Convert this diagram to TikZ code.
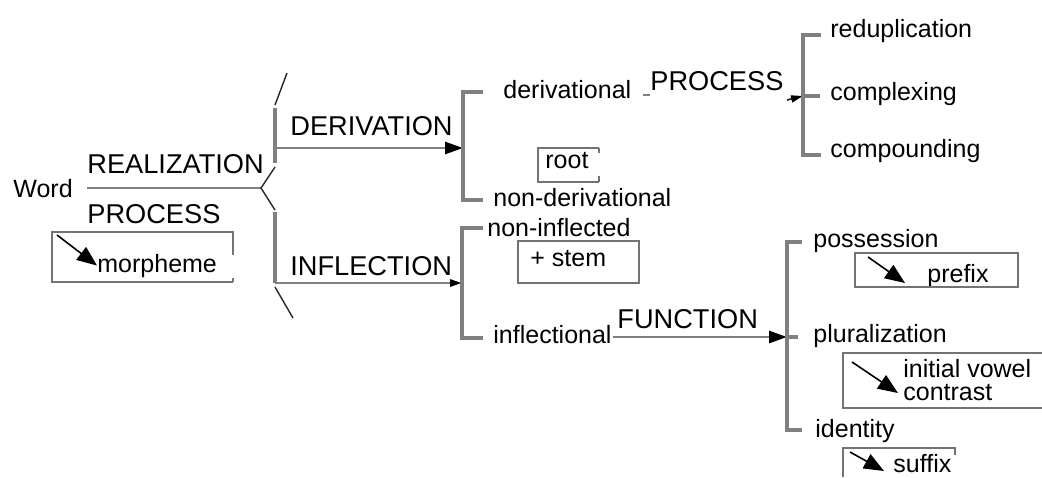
\documentclass[tikz,border=0pt]{standalone}
\usepackage{fontspec}
\setmainfont{Liberation Sans}
\usetikzlibrary{arrows.meta}
\tikzset{
  lbl/.style={inner sep=0pt, anchor=base west, font=\fontsize{12.5}{14}\selectfont},
  caps/.style={inner sep=0pt, anchor=base west, font=\fontsize{13.6}{15}\selectfont},
  gline/.style={draw=black!50, line width=1.4pt},
  bar/.style={draw=black!50, line width=1.7pt},
  slash/.style={draw=black!85, line width=0.7pt},
  boxline/.style={draw=black!55, line width=1.2pt},
  bigtip/.style={-{Triangle[length=9pt,width=6pt,black]}},
  smalltip/.style={-{Triangle[length=6pt,width=3.5pt,black]}},
  boxarrow/.style={draw=black, line width=0.8pt, -{Triangle[length=10pt,width=8pt,black]}},
}
\begin{document}
\begin{tikzpicture}[x=0.5pt,y=-0.5pt]
\useasboundingbox (0,0) rectangle (1042,477);

% ---- labels ----
\node[lbl]  (word)          at (13,197)  {Word};
\node[caps] (realization)   at (87,173)  {REALIZATION};
\node[caps] (process1)      at (87,223)  {PROCESS};
\node[lbl]  (morpheme)      at (97,272)  {morpheme};
\node[caps] (derivation)    at (290,135) {DERIVATION};
\node[caps] (inflection)    at (290,275) {INFLECTION};
\node[lbl]  (derivational)  at (503,98)  {derivational};
\node[caps] (process2)      at (650,90)  {PROCESS};
\node[lbl]  (reduplication) at (830,37)  {reduplication};
\node[lbl]  (complexing)    at (830,100) {complexing};
\node[lbl]  (compounding)   at (830,157) {compounding};
\node[lbl]  (root)          at (545,168) {root};
\node[lbl]  (nonderiv)      at (493,206) {non-derivational};
\node[lbl]  (noninfl)       at (487,236) {non-inflected};
\node[lbl]  (stem)          at (530,266) {+ stem};
\node[lbl]  (inflectional)  at (493,343) {inflectional};
\node[caps] (function)      at (617,328) {FUNCTION};
\node[lbl]  (possession)    at (813,247) {possession};
\node[lbl]  (prefix)        at (927,282) {prefix};
\node[lbl]  (pluralization) at (813,342) {pluralization};
\node[lbl]  (initialvowel)  at (903,377) {initial vowel};
\node[lbl]  (contrast)      at (903,400) {contrast};
\node[lbl]  (identity)      at (815,437) {identity};
\node[lbl]  (suffix)        at (893,472) {suffix};

% ---- entry: Word -> simultaneous brace ----
\coordinate (wordout) at (87,188);
\coordinate (kink)    at (261,188);
\draw[gline] (wordout) -- (kink);

\coordinate (bt1) at (287,73);  \coordinate (bt2) at (275,105);
\coordinate (b1a) at (275,108); \coordinate (b1b) at (275,163);
\coordinate (k1)  at (275,167); \coordinate (k2)  at (275,210);
\coordinate (b2a) at (275,212); \coordinate (b2b) at (275,283);
\coordinate (bb1) at (275,287); \coordinate (bb2) at (293,318);
\draw[slash] (bt1) -- (bt2);
\draw[bar]   (b1a) -- (b1b);
\draw[slash] (k1) -- (kink) -- (k2);
\draw[bar]   (b2a) -- (b2b);
\draw[slash] (bb1) -- (bb2);

% ---- DERIVATION system ----
\coordinate (dstart) at (275,148);
\coordinate (dbr)    at (463,148);
\draw[gline, bigtip] (dstart) -- (dbr);
\coordinate (dtop) at (483,92);
\coordinate (dbot) at (483,200);
\draw[bar] (dtop) -| (dbr) |- (dbot);

% derivational --PROCESS--> process bracket
\coordinate (p2a) at (643,95);
\coordinate (p2b) at (650,95);
\draw[gline] (p2a) -- (p2b);
\coordinate (p2c) at (787,100);
\coordinate (pbr) at (803,96);
\draw[slash, line width=0.9pt, smalltip] (p2c) -- (pbr);
\coordinate (ptop) at (821,35);
\coordinate (pbot) at (821,155);
\coordinate (pmid) at (820,96);
\draw[bar] (ptop) -| (pbr) |- (pbot);
\draw[bar] (pbr) -- (pmid);

% root box (open on the right)
\draw[boxline] (599,148) -- (538,148) -- (538,182) -- (599,182);
\draw[boxline] (599,148) -- (599,153);
\draw[boxline] (599,176) -- (599,182);

% ---- INFLECTION system ----
\coordinate (ibr) at (462,283);
\draw[gline, smalltip] (b2b) -- (ibr);
\coordinate (itop) at (483,228);
\coordinate (ibot) at (483,338);
\draw[bar] (itop) -| (ibr) |- (ibot);

% + stem box
\draw[boxline] (518,241) rectangle (639,283);

% inflectional --FUNCTION--> function bracket
\coordinate (fstart) at (613,337);
\coordinate (fbr)    at (787,337);
\draw[gline, bigtip] (fstart) -- (fbr);
\coordinate (ftop) at (802,242);
\coordinate (fbot) at (802,430);
\coordinate (fmid) at (798,337);
\draw[bar] (ftop) -| (fbr) |- (fbot);
\draw[bar] (fbr) -- (fmid);

% ---- realization boxes ----
% morpheme
\draw[boxline] (233,255) -- (233,232) -- (52,232) -- (52,282) -- (233,282);
\draw[boxline] (233,278) -- (233,282);
\coordinate (ma) at (57,235);
\draw[boxarrow] (ma) -- (morpheme.west);

% prefix
\draw[boxline] (855,253) rectangle (1018,287);
\coordinate (pra) at (868,257);
\coordinate (prb) at (905,283);
\draw[boxarrow] (pra) -- (prb);

% initial vowel contrast
\draw[boxline] (1042,353) -- (843,353) -- (843,408) -- (1042,408);
\coordinate (iva) at (852,362);
\coordinate (ivb) at (898,393);
\draw[boxarrow] (iva) -- (ivb);

% suffix
\draw[boxline] (843,477) -- (843,448) -- (955,448) -- (955,455);
\coordinate (sa) at (850,452);
\coordinate (sb) at (884,471);
\draw[boxarrow] (sa) -- (sb);
\end{tikzpicture}
\end{document}
